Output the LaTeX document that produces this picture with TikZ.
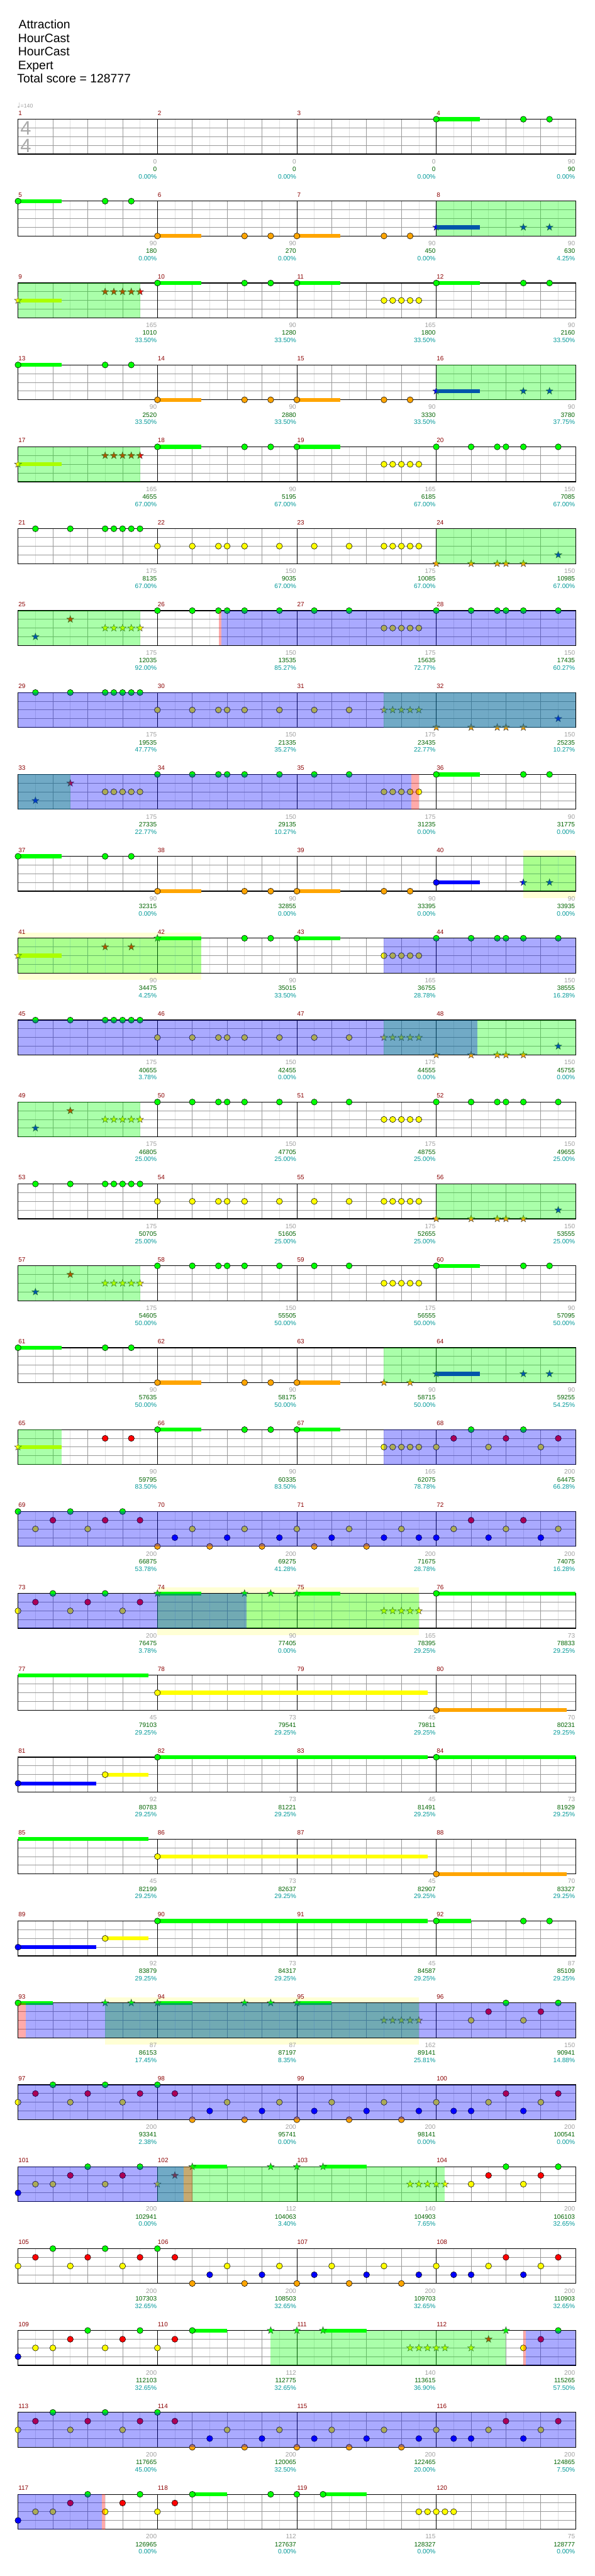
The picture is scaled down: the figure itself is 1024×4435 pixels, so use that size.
\documentclass[tikz,border=0pt]{standalone}
\usepackage{fontspec}
\setmainfont{Liberation Sans}
\newfontfamily\djv{DejaVu Sans}
\definecolor{lane0}{HTML}{00FF00}
\definecolor{lane1}{HTML}{FF0000}
\definecolor{lane2}{HTML}{FFFF00}
\definecolor{lane3}{HTML}{0000FF}
\definecolor{lane4}{HTML}{FFA500}
\definecolor{mnum}{HTML}{8B0000}
\definecolor{cmb}{HTML}{A0A0A0}
\definecolor{scr}{HTML}{006400}
\definecolor{pct}{HTML}{009999}
\definecolor{gmid}{HTML}{999999}
\definecolor{glight}{HTML}{E0E0E0}
\definecolor{spy}{HTML}{FFFFD5}
\definecolor{tsg}{HTML}{AAAAAA}
\tikzset{
 rowk/.style={shift={(0,{205.3+141*#1})}},
 mn/.style={anchor=base west,inner sep=0pt,text=mnum,font=\fontsize{10.8}{12}\selectfont},
 cb/.style={anchor=base east,inner sep=0pt,text=cmb,font=\fontsize{11}{12}\selectfont},
 sc/.style={cb,text=scr},
 pc/.style={cb,text=pct},
 hd/.style={anchor=base west,inner sep=0pt,font=\fontsize{21}{25}\selectfont},
}
\newcommand\nC[3]{\filldraw[fill=lane#3,draw=black,line width=0.6pt] ({31+240*#1+15*#2},{15*#3}) circle[radius=5.2pt];}
\newcommand\nS[3]{\filldraw[fill=lane#3,draw=black!75,line width=0.5pt,shift={({31+240*#1+15*#2},{15*#3})}] (90:6.4pt)--(126:2.6pt)--(162:6.4pt)--(198:2.6pt)--(234:6.4pt)--(270:2.6pt)--(306:6.4pt)--(342:2.6pt)--(18:6.4pt)--(54:2.6pt)--cycle;}
\newcommand\nH[4]{\fill[lane#3] ({31+240*#1+15*#2},{15*#3-3.4}) rectangle ({31+240*#1+15*#2+15*#4},{15*#3+3.4});}
\newcommand\staff{%
 \foreach \m in {0,...,3}{%
   \foreach \k in {1,3,5,7} \draw[glight,line width=0.8pt] ({31+240*\m+30*\k},0) -- ({31+240*\m+30*\k},60);
   \foreach \k in {2,4,6} \draw[gmid,line width=0.8pt] ({31+240*\m+30*\k},0) -- ({31+240*\m+30*\k},60);
 }
 \foreach \yy in {15,30,45} \draw[gmid,line width=1pt] (31,\yy) -- (991,\yy);
 \foreach \xx in {271,511,751} \draw[black,line width=0.8pt] (\xx,0) -- (\xx,60);
 \draw[black,line width=1.3pt] (31,0) rectangle (991,60);
}
\newcommand\lab[5]{%
 \node[mn] (n#5) at ({31+240*#1+0.5},-7.1) {#5};
 \node[cb] (c#5) at ({31+240*#1+239},76.5) {#2};
 \node[sc] (s#5) at ({31+240*#1+239},89.8) {#3};
 \node[pc] (p#5) at ({31+240*#1+239},102.5) {#4\%};}
\newcommand\gR[2]{\fill[lane0,opacity=0.333] (#1,0) rectangle (#2,60);}
\newcommand\bR[2]{\fill[lane3,opacity=0.333] (#1,0) rectangle (#2,60);}
\newcommand\pR[2]{\fill[lane1,opacity=0.333] (#1,0) rectangle (#2,60);}
\newcommand\yR[2]{\fill[spy] (#1,-10) rectangle (#2,72);}
% patterns
\newcommand\pA[1]{\nH{#1}{0}{0}{5}\nC{#1}{0}{0}\nC{#1}{10}{0}\nC{#1}{13}{0}}
\newcommand\pO[1]{\nH{#1}{0}{4}{5}\nC{#1}{0}{4}\nC{#1}{10}{4}\nC{#1}{13}{4}}
\newcommand\pST[1]{\nH{#1}{0}{3}{5}\nS{#1}{0}{3}\nS{#1}{10}{3}\nS{#1}{13}{3}}
\newcommand\pSP[1]{\nH{#1}{0}{2}{5}\nS{#1}{0}{2}\foreach \vp in {10,...,14}{\nS{#1}{\vp}{1}}}
\newcommand\pGY[1]{\nH{#1}{0}{0}{5}\nC{#1}{0}{0}\foreach \vp in {10,...,14}{\nC{#1}{\vp}{2}}}
\newcommand\pSix[2]{\foreach \vp in {0,4,7,8,10,14}{\nC{#1}{\vp}{#2}}}
\newcommand\pSev[2]{\foreach \vp in {2,6,10,11,12,13,14}{\nC{#1}{\vp}{#2}}}
\newcommand\pTF[1]{\nC{#1}{2}{0}\nC{#1}{6}{0}\foreach \vp in {10,...,14}{\nC{#1}{\vp}{2}}}
\newcommand\pYS[1]{\nC{#1}{2}{2}\nC{#1}{6}{2}\foreach \vp in {10,...,14}{\nS{#1}{\vp}{2}}}
\newcommand\pSO[1]{\foreach \vp in {0,4,7,8,10}{\nS{#1}{\vp}{4}}\nS{#1}{14}{3}}
\newcommand\pSM[1]{\nS{#1}{2}{3}\nS{#1}{6}{1}\foreach \vp in {10,...,14}{\nS{#1}{\vp}{2}}}
\newcommand\pL[2]{\foreach \vp/\vl in #2 {\nC{#1}{\vp}{\vl}}}
\def\PA{0/2,2/1,4/0,6/2,8/1,10/0,12/2,14/1}
\def\PB{0/0,2/1,4/4,6/3,8/2,10/4,12/3,14/2}
\def\PC{0/4,2/3,4/2,6/4,8/3,10/2,12/4,14/3}
\def\PD{0/2,2/3,4/3,6/2,8/1,10/3,12/2,14/1}
\def\PE{0/3,2/2,4/2,6/1,8/0,10/2,12/1,14/0}
\def\PF{4/2,6/1,8/0,10/2,12/1,14/0}
\begin{document}
\begin{tikzpicture}[x=1pt,y=-1pt]
\useasboundingbox (0,0) rectangle (1024,4435);
\fill[white] (0,0) rectangle (1024,4435);
\node[hd] (t1) at (32,49.3) {Attraction};
\node[hd] (t2) at (31,72.6) {HourCast};
\node[hd] (t3) at (31,96) {HourCast};
\node[hd] (t4) at (31,119.3) {Expert};
\node[hd] (t5) at (29.5,142.6) {Total score = 128777};
\node[anchor=base west,inner sep=0pt,text=cmb,font=\fontsize{9.5}{11}\selectfont] (tempo) at (29.5,185.3) {{\djv\fontsize{12}{12}\selectfont ♩}=140};
% row 1
\begin{scope}[rowk=0]
\staff
\node[anchor=base,inner sep=0pt,text=tsg,font=\fontsize{33.5}{36}\selectfont] (ts1) at (44.4,27) {4};
\node[anchor=base,inner sep=0pt,text=tsg,font=\fontsize{33.5}{36}\selectfont] (ts2) at (44.4,57) {4};
\pA{3}
\lab{0}{0}{0}{0.00}{1}\lab{1}{0}{0}{0.00}{2}\lab{2}{0}{0}{0.00}{3}\lab{3}{90}{90}{0.00}{4}
\end{scope}
% row 2
\begin{scope}[rowk=1]
\staff
\pA{0}\pO{1}\pO{2}\pST{3}
\gR{751}{991}
\lab{0}{90}{180}{0.00}{5}\lab{1}{90}{270}{0.00}{6}\lab{2}{90}{450}{0.00}{7}\lab{3}{90}{630}{4.25}{8}
\end{scope}
% row 3
\begin{scope}[rowk=2]
\staff
\pSP{0}\pA{1}\pGY{2}\pA{3}
\gR{31}{241}
\lab{0}{165}{1010}{33.50}{9}\lab{1}{90}{1280}{33.50}{10}\lab{2}{165}{1800}{33.50}{11}\lab{3}{90}{2160}{33.50}{12}
\end{scope}
% row 4
\begin{scope}[rowk=3]
\staff
\pA{0}\pO{1}\pO{2}\pST{3}
\gR{751}{991}
\lab{0}{90}{2520}{33.50}{13}\lab{1}{90}{2880}{33.50}{14}\lab{2}{90}{3330}{33.50}{15}\lab{3}{90}{3780}{37.75}{16}
\end{scope}
% row 5
\begin{scope}[rowk=4]
\staff
\pSP{0}\pA{1}\pGY{2}\pSix{3}{0}
\gR{31}{241}
\lab{0}{165}{4655}{67.00}{17}\lab{1}{90}{5195}{67.00}{18}\lab{2}{165}{6185}{67.00}{19}\lab{3}{150}{7085}{67.00}{20}
\end{scope}
% row 6
\begin{scope}[rowk=5]
\staff
\pSev{0}{0}\pSix{1}{2}\pSev{2}{2}\pSO{3}
\gR{751}{991}
\lab{0}{175}{8135}{67.00}{21}\lab{1}{150}{9035}{67.00}{22}\lab{2}{175}{10085}{67.00}{23}\lab{3}{150}{10985}{67.00}{24}
\end{scope}
% row 7
\begin{scope}[rowk=6]
\staff
\pSM{0}\pSix{1}{0}\pTF{2}\pSix{3}{0}
\gR{31}{241}\bR{380.7}{991}\pR{376.8}{380.7}
\lab{0}{175}{12035}{92.00}{25}\lab{1}{150}{13535}{85.27}{26}\lab{2}{175}{15635}{72.77}{27}\lab{3}{150}{17435}{60.27}{28}
\end{scope}
% row 8
\begin{scope}[rowk=7]
\staff
\pSev{0}{0}\pSix{1}{2}\pYS{2}\pSO{3}
\gR{661}{991}\bR{31}{991}
\lab{0}{175}{19535}{47.77}{29}\lab{1}{150}{21335}{35.27}{30}\lab{2}{175}{23435}{22.77}{31}\lab{3}{150}{25235}{10.27}{32}
\end{scope}
% row 9
\begin{scope}[rowk=8]
\staff
\nS{0}{2}{3}\nS{0}{6}{1}\foreach \vp in {10,...,14}{\nC{0}{\vp}{2}}
\pSix{1}{0}\pTF{2}\pA{3}
\gR{31}{121}\bR{31}{708.5}\pR{708.5}{721}
\lab{0}{175}{27335}{22.77}{33}\lab{1}{150}{29135}{10.27}{34}\lab{2}{175}{31235}{0.00}{35}\lab{3}{90}{31775}{0.00}{36}
\end{scope}
% row 10
\begin{scope}[rowk=9]
\yR{901}{991}
\staff
\pA{0}\pO{1}\pO{2}
\nH{3}{0}{3}{5}\nC{3}{0}{3}\nS{3}{10}{3}\nS{3}{13}{3}
\gR{901}{991}
\lab{0}{90}{32315}{0.00}{37}\lab{1}{90}{32855}{0.00}{38}\lab{2}{90}{33395}{0.00}{39}\lab{3}{90}{33935}{0.00}{40}
\end{scope}
% row 11
\begin{scope}[rowk=10]
\yR{31}{346}
\staff
\nH{0}{0}{2}{5}\nS{0}{0}{2}\nS{0}{10}{1}\nS{0}{13}{1}
\nH{1}{0}{0}{5}\nS{1}{0}{0}\nC{1}{10}{0}\nC{1}{13}{0}
\pGY{2}\pSix{3}{0}
\gR{31}{346}\bR{661}{991}
\lab{0}{90}{34475}{4.25}{41}\lab{1}{90}{35015}{33.50}{42}\lab{2}{165}{36755}{28.78}{43}\lab{3}{150}{38555}{16.28}{44}
\end{scope}
% row 12
\begin{scope}[rowk=11]
\staff
\pSev{0}{0}\pSix{1}{2}\pYS{2}\pSO{3}
\gR{661}{991}\bR{31}{822}
\lab{0}{175}{40655}{3.78}{45}\lab{1}{150}{42455}{0.00}{46}\lab{2}{175}{44555}{0.00}{47}\lab{3}{150}{45755}{0.00}{48}
\end{scope}
% row 13
\begin{scope}[rowk=12]
\staff
\pSM{0}\pSix{1}{0}\pTF{2}\pSix{3}{0}
\gR{31}{241}
\lab{0}{175}{46805}{25.00}{49}\lab{1}{150}{47705}{25.00}{50}\lab{2}{175}{48755}{25.00}{51}\lab{3}{150}{49655}{25.00}{52}
\end{scope}
% row 14
\begin{scope}[rowk=13]
\staff
\pSev{0}{0}\pSix{1}{2}\pSev{2}{2}\pSO{3}
\gR{751}{991}
\lab{0}{175}{50705}{25.00}{53}\lab{1}{150}{51605}{25.00}{54}\lab{2}{175}{52655}{25.00}{55}\lab{3}{150}{53555}{25.00}{56}
\end{scope}
% row 15
\begin{scope}[rowk=14]
\staff
\pSM{0}\pSix{1}{0}\pTF{2}\pA{3}
\gR{31}{241}
\lab{0}{175}{54605}{50.00}{57}\lab{1}{150}{55505}{50.00}{58}\lab{2}{175}{56555}{50.00}{59}\lab{3}{90}{57095}{50.00}{60}
\end{scope}
% row 16
\begin{scope}[rowk=15]
\staff
\pA{0}\pO{1}
\nH{2}{0}{4}{5}\nC{2}{0}{4}\nS{2}{10}{4}\nS{2}{13}{4}
\pST{3}
\gR{661}{991}
\lab{0}{90}{57635}{50.00}{61}\lab{1}{90}{58175}{50.00}{62}\lab{2}{90}{58715}{50.00}{63}\lab{3}{90}{59255}{54.25}{64}
\end{scope}
% row 17
\begin{scope}[rowk=16]
\staff
\nH{0}{0}{2}{5}\nS{0}{0}{2}\nC{0}{10}{1}\nC{0}{13}{1}
\pA{1}\pGY{2}\pL{3}{\PA}
\gR{31}{106}\bR{661}{991}
\lab{0}{90}{59795}{83.50}{65}\lab{1}{90}{60335}{83.50}{66}\lab{2}{165}{62075}{78.78}{67}\lab{3}{200}{64475}{66.28}{68}
\end{scope}
% row 18
\begin{scope}[rowk=17]
\staff
\pL{0}{{0/0,2/2,4/1,6/0,8/2,10/1,12/0,14/1}}
\pL{1}{\PC}
\pL{2}{{0/2,2/4,4/3,6/2,8/4,10/3,12/2,14/3}}
\pL{3}{{0/3,2/2,4/1,6/3,8/2,10/1,12/3,14/2}}
\bR{31}{991}
\lab{0}{200}{66875}{53.78}{69}\lab{1}{200}{69275}{41.28}{70}\lab{2}{200}{71675}{28.78}{71}\lab{3}{200}{74075}{16.28}{72}
\end{scope}
% row 19
\begin{scope}[rowk=18]
\yR{271}{721}
\staff
\pL{0}{\PA}
\nH{1}{0}{0}{5}\nS{1}{0}{0}\nS{1}{10}{0}\nS{1}{13}{0}
\nH{2}{0}{0}{5}\nS{2}{0}{0}\foreach \vp in {10,...,14}{\nS{2}{\vp}{2}}
\nH{3}{0}{0}{16}\nC{3}{0}{0}
\gR{271}{721}\bR{31}{424.5}
\lab{0}{200}{76475}{3.78}{73}\lab{1}{90}{77405}{0.00}{74}\lab{2}{165}{78395}{29.25}{75}\lab{3}{73}{78833}{29.25}{76}
\end{scope}
% row 20
\begin{scope}[rowk=19]
\staff
\nH{0}{0}{0}{15}
\nH{1}{0}{2}{31}\nC{1}{0}{2}
\nH{3}{0}{4}{15}\nC{3}{0}{4}
\lab{0}{45}{79103}{29.25}{77}\lab{1}{73}{79541}{29.25}{78}\lab{2}{45}{79811}{29.25}{79}\lab{3}{70}{80231}{29.25}{80}
\end{scope}
% row 21
\begin{scope}[rowk=20]
\staff
\nH{0}{0}{3}{9}\nC{0}{0}{3}\nH{0}{10}{2}{5}\nC{0}{10}{2}
\nH{1}{0}{0}{31}\nC{1}{0}{0}
\nH{3}{0}{0}{16}\nC{3}{0}{0}
\lab{0}{92}{80783}{29.25}{81}\lab{1}{73}{81221}{29.25}{82}\lab{2}{45}{81491}{29.25}{83}\lab{3}{73}{81929}{29.25}{84}
\end{scope}
% row 22
\begin{scope}[rowk=21]
\staff
\nH{0}{0}{0}{15}
\nH{1}{0}{2}{31}\nC{1}{0}{2}
\nH{3}{0}{4}{15}\nC{3}{0}{4}
\lab{0}{45}{82199}{29.25}{85}\lab{1}{73}{82637}{29.25}{86}\lab{2}{45}{82907}{29.25}{87}\lab{3}{70}{83327}{29.25}{88}
\end{scope}
% row 23
\begin{scope}[rowk=22]
\staff
\nH{0}{0}{3}{9}\nC{0}{0}{3}\nH{0}{10}{2}{5}\nC{0}{10}{2}
\nH{1}{0}{0}{31}\nC{1}{0}{0}
\nH{3}{0}{0}{4}\nC{3}{0}{0}\nC{3}{10}{0}\nC{3}{13}{0}
\lab{0}{92}{83879}{29.25}{89}\lab{1}{73}{84317}{29.25}{90}\lab{2}{45}{84587}{29.25}{91}\lab{3}{87}{85109}{29.25}{92}
\end{scope}
% row 24
\begin{scope}[rowk=23]
\yR{181}{721}
\staff
\nH{0}{0}{0}{4}\nC{0}{0}{0}\nS{0}{10}{0}\nS{0}{13}{0}
\nH{1}{0}{0}{4}\nS{1}{0}{0}\nS{1}{10}{0}\nS{1}{13}{0}
\nH{2}{0}{0}{4}\nS{2}{0}{0}\foreach \vp in {10,...,14}{\nS{2}{\vp}{2}}
\pL{3}{\PF}
\gR{181}{721}\bR{44}{991}\pR{31}{44}
\lab{0}{87}{86153}{17.45}{93}\lab{1}{87}{87197}{8.35}{94}\lab{2}{162}{89141}{25.81}{95}\lab{3}{150}{90941}{14.88}{96}
\end{scope}
% row 25
\begin{scope}[rowk=24]
\staff
\pL{0}{\PA}\pL{1}{\PB}\pL{2}{\PC}\pL{3}{\PD}
\bR{31}{991}
\lab{0}{200}{93341}{2.38}{97}\lab{1}{200}{95741}{0.00}{98}\lab{2}{200}{98141}{0.00}{99}\lab{3}{200}{100541}{0.00}{100}
\end{scope}
% row 26
\begin{scope}[rowk=25]
\staff
\pL{0}{\PE}
\nS{1}{0}{2}\nS{1}{2}{1}\nH{1}{4}{0}{4}\nS{1}{4}{0}\nS{1}{13}{0}
\nS{2}{0}{0}\nH{2}{3}{0}{5}\nS{2}{3}{0}\nS{2}{13}{2}\nS{2}{14}{2}\nS{2}{15}{2}
\nS{3}{0}{2}\nS{3}{1}{2}\pL{3}{\PF}
\gR{271}{766}\bR{31}{316}\pR{316}{331}
\lab{0}{200}{102941}{0.00}{101}\lab{1}{112}{104063}{3.40}{102}\lab{2}{140}{104903}{7.65}{103}\lab{3}{200}{106103}{32.65}{104}
\end{scope}
% row 27
\begin{scope}[rowk=26]
\staff
\pL{0}{\PA}\pL{1}{\PB}\pL{2}{\PC}\pL{3}{\PD}
\lab{0}{200}{107303}{32.65}{105}\lab{1}{200}{108503}{32.65}{106}\lab{2}{200}{109703}{32.65}{107}\lab{3}{200}{110903}{32.65}{108}
\end{scope}
% row 28
\begin{scope}[rowk=27]
\staff
\pL{0}{\PE}
\nC{1}{0}{2}\nC{1}{2}{1}\nH{1}{4}{0}{4}\nC{1}{4}{0}\nS{1}{13}{0}
\nS{2}{0}{0}\nH{2}{3}{0}{5}\nS{2}{3}{0}\nS{2}{13}{2}\nS{2}{14}{2}\nS{2}{15}{2}
\nS{3}{0}{2}\nS{3}{1}{2}\nS{3}{4}{2}\nS{3}{6}{1}\nS{3}{8}{0}\pL{3}{{10/2,12/1,14/0}}
\gR{466}{871}\bR{905}{991}\pR{901}{905}
\lab{0}{200}{112103}{32.65}{109}\lab{1}{112}{112775}{32.65}{110}\lab{2}{140}{113615}{36.90}{111}\lab{3}{200}{115265}{57.50}{112}
\end{scope}
% row 29
\begin{scope}[rowk=28]
\staff
\pL{0}{\PA}\pL{1}{\PB}\pL{2}{\PC}\pL{3}{\PD}
\bR{31}{991}
\lab{0}{200}{117665}{45.00}{113}\lab{1}{200}{120065}{32.50}{114}\lab{2}{200}{122465}{20.00}{115}\lab{3}{200}{124865}{7.50}{116}
\end{scope}
% row 30
\begin{scope}[rowk=29]
\staff
\pL{0}{\PE}
\nC{1}{0}{2}\nC{1}{2}{1}\nH{1}{4}{0}{4}\nC{1}{4}{0}\nC{1}{13}{0}
\nC{2}{0}{0}\nH{2}{3}{0}{5}\nC{2}{3}{0}\nC{2}{14}{2}\nC{2}{15}{2}
\nC{3}{0}{2}\nC{3}{1}{2}\nC{3}{2}{2}
\bR{31}{175}\pR{175}{181}
\lab{0}{200}{126965}{0.00}{117}\lab{1}{112}{127637}{0.00}{118}\lab{2}{115}{128327}{0.00}{119}\lab{3}{75}{128777}{0.00}{120}
\end{scope}
\end{tikzpicture}
\end{document}
